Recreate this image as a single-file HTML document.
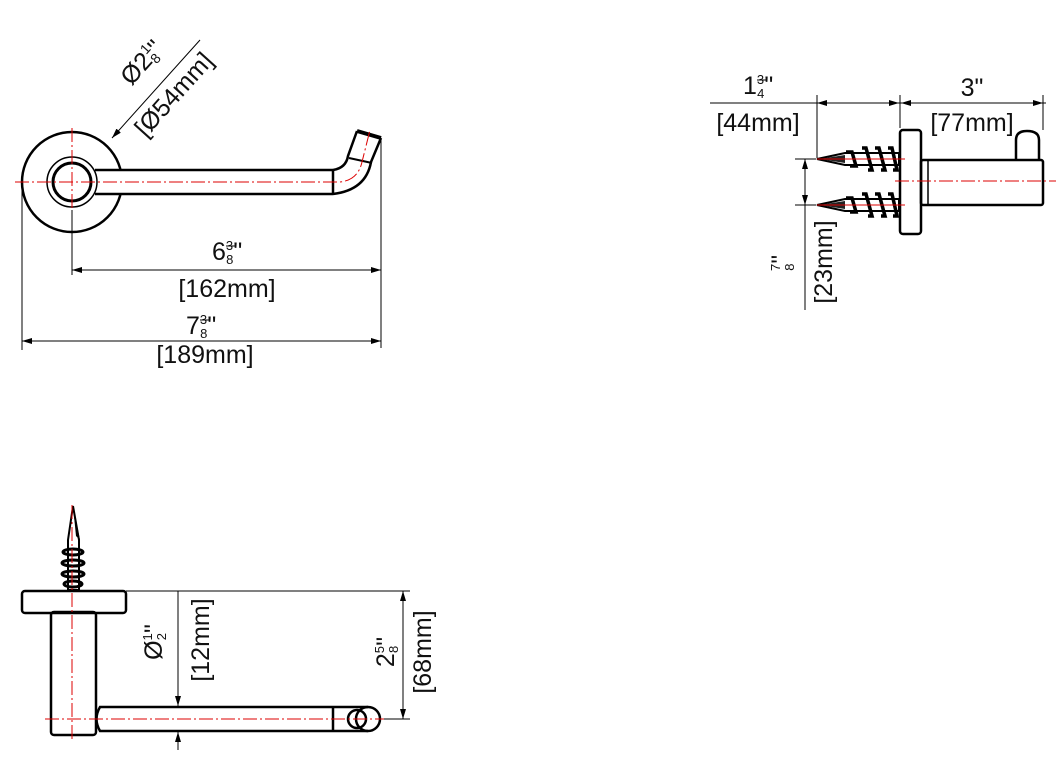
<!DOCTYPE html>
<html><head><meta charset="utf-8"><style>
html,body{margin:0;padding:0;background:#fff;}
svg{display:block;}
text{font-family:"Liberation Sans",sans-serif;fill:#111;}
.k{stroke:#000;fill:none;}
.red{stroke:#d00;stroke-width:1;fill:none;stroke-dasharray:14 3 2 3;}
.d{stroke:#000;stroke-width:1;fill:none;}
</style></head><body>
<svg width="1056" height="776" viewBox="0 0 1056 776" xmlns="http://www.w3.org/2000/svg">
<defs>
<marker id="a" viewBox="0 0 10 6" refX="10" refY="3" markerWidth="10" markerHeight="6" orient="auto-start-reverse" markerUnits="userSpaceOnUse"><path d="M0,0 L10,3 L0,6 Z" fill="#000"/></marker>
</defs>

<!-- ===== VIEW 1 ===== -->
<circle cx="72" cy="182" r="50" class="k" stroke-width="2.5" fill="#fff"/>
<rect x="94" y="170" width="239" height="24" fill="#fff"/>
<circle cx="72" cy="182" r="25" class="k" stroke-width="1.5" fill="#fff"/>
<circle cx="72" cy="182" r="19" class="k" stroke-width="3"/>
<line x1="95" y1="170" x2="333" y2="170" class="k" stroke-width="2.5"/>
<line x1="95" y1="194" x2="333" y2="194" class="k" stroke-width="2.5"/>
<line x1="333" y1="169" x2="333" y2="195" class="k" stroke-width="2.5"/>
<path d="M333,170 Q346,168 348,156 L357,131" class="k" stroke-width="2.5"/>
<path d="M333,194 Q366,190 371,162 L381,138" class="k" stroke-width="2.5"/>
<path d="M357,131 L381,138" class="k" stroke-width="4"/>
<line x1="349" y1="158" x2="372" y2="163" class="k" stroke-width="2"/>
<path d="M15,182 L340,182 Q358,180 362,162 L370,130" class="red"/>
<line x1="72" y1="128" x2="72" y2="240" class="red"/>
<line x1="200" y1="40" x2="112" y2="138" class="d" marker-end="url(#a)"/>
<g transform="translate(148,68) rotate(-48)"><text x="0" y="0" font-size="25" text-anchor="middle">Ø2<tspan font-size="14" dy="-10">1</tspan><tspan font-size="14" dx="-8" dy="14">8</tspan><tspan dy="-4">"</tspan></text></g>
<g transform="translate(180,100) rotate(-48)"><text x="0" y="0" font-size="25" text-anchor="middle">[Ø54mm]</text></g>
<line x1="72" y1="210" x2="72" y2="275" class="d"/>
<line x1="381" y1="140" x2="381" y2="348" class="d"/>
<line x1="72" y1="270" x2="381" y2="270" class="d" marker-start="url(#a)" marker-end="url(#a)"/>
<text x="212" y="260" font-size="25">6<tspan font-size="13" dy="-10">3</tspan><tspan font-size="13" dx="-7" dy="14">8</tspan><tspan dy="-4">"</tspan></text>
<line x1="226" y1="246" x2="235" y2="246" class="d"/>
<text x="227" y="297" font-size="25" text-anchor="middle">[162mm]</text>
<line x1="22" y1="185" x2="22" y2="350" class="d"/>
<line x1="22" y1="341" x2="381" y2="341" class="d" marker-start="url(#a)" marker-end="url(#a)"/>
<text x="186" y="334" font-size="25">7<tspan font-size="13" dy="-10">3</tspan><tspan font-size="13" dx="-7" dy="14">8</tspan><tspan dy="-4">"</tspan></text>
<line x1="200" y1="320" x2="209" y2="320" class="d"/>
<text x="205" y="363" font-size="25" text-anchor="middle">[189mm]</text>

<!-- ===== VIEW 2 ===== -->
<line x1="710" y1="103" x2="1046" y2="103" class="d"/>
<line x1="817" y1="95" x2="817" y2="158" class="d"/>
<line x1="900" y1="95" x2="900" y2="128" class="d"/>
<line x1="1043" y1="95" x2="1043" y2="130" class="d"/>
<line x1="817" y1="103" x2="899" y2="103" class="d" marker-start="url(#a)" marker-end="url(#a)"/>
<line x1="901" y1="103" x2="1043" y2="103" class="d" marker-start="url(#a)" marker-end="url(#a)"/>
<text x="743" y="94" font-size="25">1<tspan font-size="13" dy="-10">3</tspan><tspan font-size="13" dx="-7" dy="14">4</tspan><tspan dy="-4">"</tspan></text>
<line x1="757" y1="80" x2="766" y2="80" class="d"/>
<text x="758" y="131" font-size="25" text-anchor="middle">[44mm]</text>
<text x="972" y="96" font-size="25" text-anchor="middle">3"</text>
<text x="972" y="131" font-size="25" text-anchor="middle">[77mm]</text>
<path d="M1016,160 L1016,140 Q1016,131 1027,131 Q1039,131 1039,140 L1039,160" class="k" stroke-width="2.5" fill="#fff"/>
<rect x="921" y="160" width="122" height="45" rx="2" class="k" stroke-width="2.5" fill="#fff"/>
<line x1="928" y1="160" x2="928" y2="205" class="k" stroke-width="1.5"/>
<rect x="900" y="130" width="21" height="104" rx="3" class="k" stroke-width="2.5" fill="#fff"/>
<g id="scr">
<path d="M817,159 L845,153 L899,153 L899,165 L845,165 Z" fill="#fff" stroke="#000" stroke-width="2"/>
<path d="M819,159 L845,155 L845,163 Z" fill="#222"/>
<g stroke="#000" stroke-width="3.5" fill="none">
<path d="M846,152 L852,152 L856,166 L850,166"/>
<path d="M862,148 L866,148 L872,170 L868,170"/>
<path d="M875,148 L879,148 L885,170 L881,170"/>
<path d="M888,148 L892,148 L897,170 L893,170"/>
</g>
</g>
<use href="#scr" transform="translate(0,46)"/>
<line x1="817" y1="159" x2="905" y2="159" stroke="#d00" stroke-width="1"/>
<line x1="817" y1="205" x2="905" y2="205" stroke="#d00" stroke-width="1"/>
<line x1="895" y1="181" x2="1056" y2="181" class="red"/>
<line x1="795" y1="159" x2="816" y2="159" class="d"/>
<line x1="795" y1="205" x2="816" y2="205" class="d"/>
<line x1="805" y1="159" x2="805" y2="310" class="d"/>
<line x1="805" y1="171" x2="805" y2="159" class="d" marker-end="url(#a)"/>
<line x1="805" y1="193" x2="805" y2="205" class="d" marker-end="url(#a)"/>
<g transform="translate(786,263) rotate(-90)"><text x="0" y="0" font-size="24" text-anchor="middle"><tspan font-size="13" dy="-6">7</tspan><tspan font-size="13" dx="-7" dy="14">8</tspan><tspan dy="-6">"</tspan></text></g>
<g transform="translate(832,262) rotate(-90)"><text x="0" y="0" font-size="25" text-anchor="middle">[23mm]</text></g>

<!-- ===== VIEW 3 ===== -->
<path d="M73,506 L68,540 L68,590 L79,590 L79,540 Z" fill="#fff" stroke="#000" stroke-width="2"/>
<path d="M73,506 L76,536 L80,540 Z" fill="#000"/>
<g stroke="#000" stroke-width="3" fill="none">
<ellipse cx="73" cy="552" rx="10" ry="3"/>
<ellipse cx="73" cy="563" rx="11" ry="3"/>
<ellipse cx="73" cy="574" rx="11" ry="3"/>
<ellipse cx="73" cy="584" rx="9" ry="3"/>
</g>
<rect x="51" y="612" width="45" height="123" rx="3" class="k" stroke-width="2.5" fill="#fff"/>
<rect x="22" y="591" width="104" height="22" rx="3" class="k" stroke-width="2.5" fill="#fff"/>
<path d="M333,707 L100,707 Q93,719 100,731 L333,731" class="k" stroke-width="2.5" fill="#fff"/>
<line x1="333" y1="706" x2="333" y2="732" class="k" stroke-width="2.5"/>
<path d="M333,707 L368,707 M333,731 L368,731" class="k" stroke-width="2.5"/>
<circle cx="357" cy="719" r="9" class="k" stroke-width="2.5"/>
<circle cx="368" cy="719" r="12" class="k" stroke-width="2.5" fill="#fff"/>
<line x1="72" y1="505" x2="72" y2="742" class="red"/>
<line x1="45" y1="719" x2="392" y2="719" class="red"/>
<line x1="126" y1="591" x2="410" y2="591" class="d"/>
<line x1="384" y1="719" x2="410" y2="719" class="d"/>
<line x1="178" y1="591" x2="178" y2="706" class="d" marker-end="url(#a)"/>
<line x1="178" y1="750" x2="178" y2="732" class="d" marker-end="url(#a)"/>
<line x1="403" y1="591" x2="403" y2="719" class="d" marker-start="url(#a)" marker-end="url(#a)"/>
<g transform="translate(162,642) rotate(-90)"><text x="0" y="0" font-size="25" text-anchor="middle">Ø<tspan font-size="13" dy="-10">1</tspan><tspan font-size="13" dx="-7" dy="14">2</tspan><tspan dy="-4">"</tspan></text></g>
<g transform="translate(209,640) rotate(-90)"><text x="0" y="0" font-size="25" text-anchor="middle">[12mm]</text></g>
<g transform="translate(394,652) rotate(-90)"><text x="0" y="0" font-size="25" text-anchor="middle">2<tspan font-size="13" dy="-10">5</tspan><tspan font-size="13" dx="-7" dy="14">8</tspan><tspan dy="-4">"</tspan></text></g>
<g transform="translate(431,652) rotate(-90)"><text x="0" y="0" font-size="25" text-anchor="middle">[68mm]</text></g>
</svg>
</body></html>
